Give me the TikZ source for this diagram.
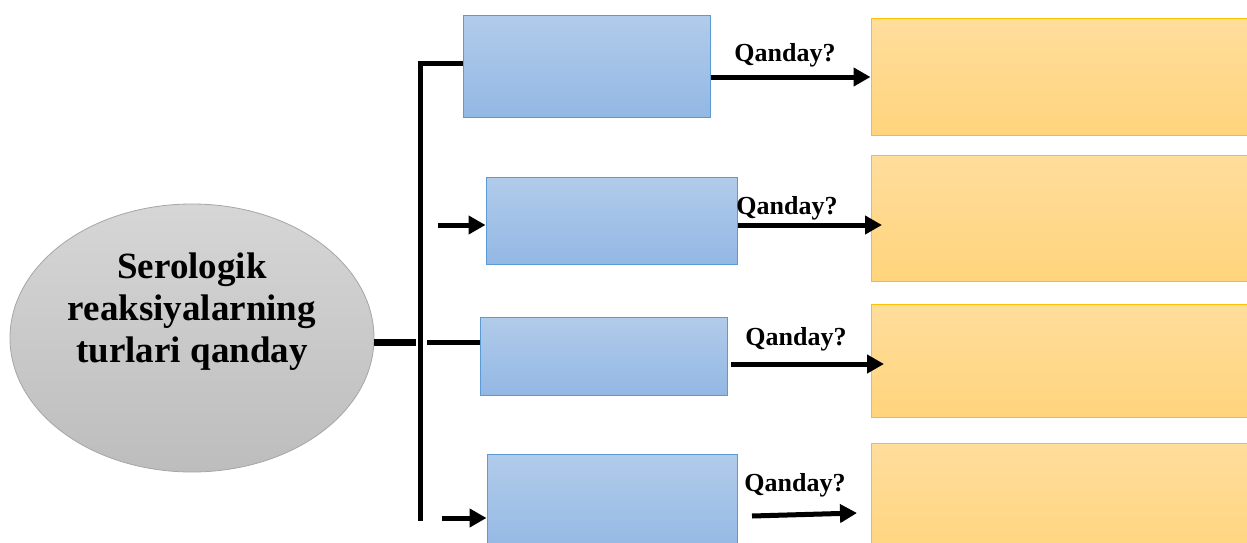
\documentclass[tikz,border=0pt]{standalone}
\usepackage{fontspec}
\setmainfont{Liberation Serif}
\usetikzlibrary{arrows.meta,positioning,calc,shapes.geometric}

\definecolor{bluetop}{HTML}{B1CBEA}
\definecolor{bluebot}{HTML}{93B8E4}
\definecolor{blueedge}{HTML}{5B9BD5}
\definecolor{goldtop}{HTML}{FFDD9C}
\definecolor{goldbot}{HTML}{FFD47C}
\definecolor{goldedge}{HTML}{FFC000}
\definecolor{greytop}{HTML}{D6D6D6}
\definecolor{greybot}{HTML}{BDBDBD}
\definecolor{greyedge}{HTML}{A6A6A6}

\tikzset{
  bluebox/.style={rectangle, draw=blueedge, line width=1pt,
    top color=bluetop, bottom color=bluebot, inner sep=0pt},
  goldbox/.style={rectangle, draw=goldedge, line width=1pt,
    top color=goldtop, bottom color=goldbot, inner sep=0pt},
  hub/.style={ellipse, draw=greyedge, line width=0.8pt,
    top color=greytop, bottom color=greybot, inner sep=0pt,
    minimum width=364pt, minimum height=268pt},
  hubtext/.style={font=\fontsize{37}{42}\selectfont\bfseries, align=center, inner sep=0pt},
  bar/.style={line width=5pt, black},
  thickbar/.style={line width=7pt, black},
  flow/.style={line width=5pt, black, -{Triangle[length=17pt,width=18pt]}},
  ask/.style={font=\fontsize{26}{30}\selectfont\bfseries, inner sep=0pt},
}

\begin{document}
\begin{tikzpicture}[x=1pt,y=-1pt]
\clip (0,0) rectangle (1247,543);
\fill[white] (0,0) rectangle (1247,543);

% central ellipse and its caption
\node[hub] (hub) at (192,338) {};
\node[hubtext] (hubcap) at (192,312) {Serologik\\reaksiyalarning\\turlari qanday};

% blue boxes (left column)
\node[bluebox, minimum width=247pt, minimum height=101pt] (b1) at (586.5,66.5) {};
\node[bluebox, minimum width=251pt, minimum height=87pt]  (b2) at (611.5,220.5) {};
\node[bluebox, minimum width=247pt, minimum height=78pt]  (b3) at (603.5,356) {};
\node[bluebox, minimum width=250pt, minimum height=100pt] (b4) at (612,504) {};

% gold boxes (right column)
\node[goldbox, minimum width=390pt, minimum height=116pt] (y1) at (1066,77) {};
\node[goldbox, minimum width=390pt, minimum height=126pt] (y2) at (1066,218) {};
\node[goldbox, minimum width=390pt, minimum height=113pt] (y3) at (1066,360.5) {};
\node[goldbox, minimum width=390pt, minimum height=120pt] (y4) at (1066,503) {};

% trunk of the bracket
\coordinate (ttop) at (420,64);
\coordinate (tbot) at (420,521);
\draw[bar] (ttop) -- (tbot);
\draw[bar] ($(ttop)+(-2.5,0)$) -- (b1.west |- ttop);

% link from ellipse to the trunk
\coordinate (hubjoin) at (416,342);
\draw[thickbar] (hub.east |- hubjoin) -- (hubjoin);
\coordinate (s3) at (427,342);
\draw[bar] (s3) -- (b3.west |- s3);

% short feeder arrows
\coordinate (s2) at (438,225);
\draw[flow] (s2) -- (b2.west |- s2);
\coordinate (s4) at (442,518);
\draw[flow] (s4) -- (b4.west |- s4);

% arrows towards the gold boxes
\coordinate (a1) at (710,77);
\draw[flow] (b1.east |- a1) -- (y1.west |- a1);
\node[ask] at (785,55) {Qanday?};

\coordinate (a2) at (737,225);
\draw[flow] (b2.east |- a2) -- (882,225);
\node[ask] at (787,208) {Qanday?};

\coordinate (a3s) at (731,364);
\draw[flow] (a3s) -- (884,364);
\node[ask] at (796,339) {Qanday?};

\coordinate (a4s) at (752,516);
\coordinate (a4e) at (857,513);
\draw[flow] (a4s) -- (a4e);
\node[ask] at (795,485) {Qanday?};
\end{tikzpicture}
\end{document}
